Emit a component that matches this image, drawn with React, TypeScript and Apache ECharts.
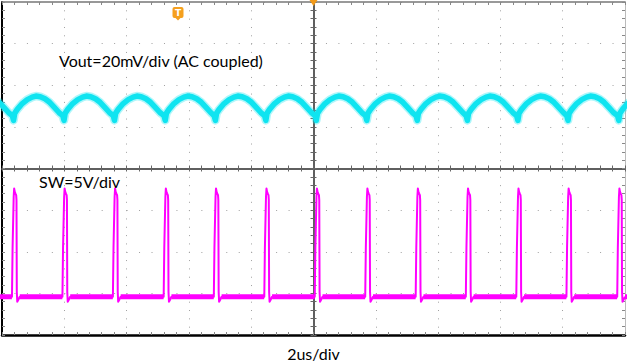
import React, { useEffect, useRef } from "react";
import * as echarts from "echarts";

// time axis: µs, 2 µs/div, 10 divisions
const timeMin = -10;
const timeMax = 10;
// vertical screen: 8 divisions
const divMin = -4;
const divMax = 4;
// Vout channel: 20 mV/div (AC coupled)
const voutMin = -110;
const voutMax = 50;
// SW channel: 5 V/div
const swMin = -5;
const swMax = 35;

// rising edges of the switch node (µs), first one is just off screen
const switchEdges = [-11.29, -9.67, -8.05, -6.43, -4.8, -3.19, -1.57, 0.05, 1.67, 3.29, 4.9, 6.52, 8.13, 9.76];

// Vout ripple through one switching cycle (offset µs from edge, mV)
const rippleOffsets = [0.0, 0.04, 0.08, 0.16, 0.32, 0.48, 0.64, 0.76, 0.9, 1.05, 1.2, 1.35, 1.5];
const rippleValues = [-4.6, -6.9, -3.4, -1.6, 1.2, 3.1, 4.3, 4.8, 4.5, 3.5, 1.8, -0.6, -3.1];

// SW pulse through one cycle (offset µs from edge, V)
const pulseOffsets = [-0.01, 0.01, 0.045, 0.06, 0.08, 0.1, 0.125, 0.135, 0.145, 0.16, 0.19, 0.24];
const pulseValues = [-0.4, 5.5, 11.6, 12.6, 12.2, 12.0, 11.8, 11.2, 0.2, -1.0, -0.8, -0.4];
const swLowLevel = -0.4;

function buildRipple(): (number | string)[][] {
  const out: (number | string)[][] = [];
  switchEdges.forEach((e, i) => {
    const next = switchEdges[i + 1];
    rippleOffsets.forEach((o, j) => {
      const t = e + o;
      if (next === undefined || t < next) out.push([t, rippleValues[j]]);
    });
  });
  return out;
}

function buildSwitch(): (number | string)[][] {
  const out: (number | string)[][] = [];
  switchEdges.forEach((e) => {
    pulseOffsets.forEach((o, j) => out.push([e + o, pulseValues[j]]));
  });
  return out;
}

function buildLowBand(): (number | string)[][] {
  const out: (number | string)[][] = [];
  switchEdges.forEach((e, i) => {
    const next = switchEdges[i + 1] !== undefined ? switchEdges[i + 1] : e + 1.62;
    out.push([e + 0.24, swLowLevel]);
    out.push([next - 0.012, swLowLevel]);
    out.push([next - 0.006, "-"]);
  });
  return out;
}

const FONT = "Lato";

export default function App() {
  const ref = useRef<HTMLDivElement>(null);
  useEffect(() => {
    if (!ref.current) return;
    const chart = echarts.init(ref.current, undefined, { renderer: "svg" });
    const dotted = (gap: number) => ({ color: "#a0a0a0", width: 1, type: [1, gap] as any });
    const hiddenText = { show: false };
    const option: any = {
      animation: false,
      backgroundColor: "#ffffff",
      grid: { left: 2, right: 2, top: 2, bottom: 28, containLabel: false, outerBoundsMode: "none" },
      xAxis: [
        {
          type: "value", min: timeMin, max: timeMax, interval: 2, position: "bottom",
          axisLine: { show: false, onZero: false }, axisTick: { show: false }, axisLabel: hiddenText,
          splitLine: { show: true, lineStyle: dotted(7.325) },
          name: "2us/div", nameLocation: "middle", nameGap: 10,
          nameTextStyle: { fontFamily: FONT, fontSize: 16, color: "#000" },
        },
        {
          type: "value", min: timeMin, max: timeMax, interval: 0.4, position: "bottom",
          axisLine: { show: true, onZero: false, lineStyle: { color: "#000", width: 2.5 } },
          axisTick: { show: true, inside: true, length: 3, lineStyle: { color: "#888" } },
          axisLabel: hiddenText, splitLine: { show: false },
        },
        {
          type: "value", min: timeMin, max: timeMax, interval: 0.4, position: "top",
          axisLine: { show: true, onZero: false, lineStyle: { color: "#777", width: 1.5 } },
          axisTick: { show: true, inside: true, length: 3, lineStyle: { color: "#888" } },
          axisLabel: hiddenText, splitLine: { show: false },
        },
        {
          type: "value", min: timeMin, max: timeMax, interval: 0.4, position: "bottom",
          axisLine: { show: true, onZero: true, onZeroAxisIndex: 0, lineStyle: { color: "#555", width: 1.5 } },
          axisTick: { show: true, inside: true, length: 3, lineStyle: { color: "#666" } },
          axisLabel: hiddenText, splitLine: { show: false },
        },
        {
          type: "value", min: timeMin, max: timeMax, interval: 0.4, position: "bottom",
          axisLine: { show: true, onZero: true, onZeroAxisIndex: 0, lineStyle: { color: "#555", width: 1.5 } },
          axisTick: { show: true, inside: false, length: 3, lineStyle: { color: "#666" } },
          axisLabel: hiddenText, splitLine: { show: false },
        },
      ],
      yAxis: [
        {
          type: "value", min: divMin, max: divMax, interval: 1,
          axisLine: { show: false, onZero: false }, axisTick: { show: false }, axisLabel: hiddenText,
          splitLine: { show: true, lineStyle: dotted(11.46) },
        },
        {
          type: "value", min: divMin, max: divMax, interval: 0.2, position: "left",
          axisLine: { show: true, onZero: false, lineStyle: { color: "#000", width: 2 } },
          axisTick: { show: true, inside: true, length: 3, lineStyle: { color: "#888" } },
          axisLabel: hiddenText, splitLine: { show: false },
        },
        {
          type: "value", min: divMin, max: divMax, interval: 0.2, position: "right",
          axisLine: { show: true, onZero: false, lineStyle: { color: "#bbb", width: 1 } },
          axisTick: { show: true, inside: true, length: 3, lineStyle: { color: "#888" } },
          axisLabel: hiddenText, splitLine: { show: false },
        },
        {
          type: "value", min: divMin, max: divMax, interval: 0.2, position: "left",
          axisLine: { show: true, onZero: true, onZeroAxisIndex: 0, lineStyle: { color: "#555", width: 1.5 } },
          axisTick: { show: true, inside: true, length: 3, lineStyle: { color: "#666" } },
          axisLabel: hiddenText, splitLine: { show: false },
        },
        {
          type: "value", min: divMin, max: divMax, interval: 0.2, position: "left",
          axisLine: { show: true, onZero: true, onZeroAxisIndex: 0, lineStyle: { color: "#555", width: 1.5 } },
          axisTick: { show: true, inside: false, length: 3, lineStyle: { color: "#666" } },
          axisLabel: hiddenText, splitLine: { show: false },
        },
        { type: "value", min: voutMin, max: voutMax, show: false, axisLine: { onZero: false } },
        { type: "value", min: swMin, max: swMax, show: false, axisLine: { onZero: false } },
      ],
      series: [
        {
          name: "Vout halo", type: "line", xAxisIndex: 0, yAxisIndex: 5, data: buildRipple(),
          showSymbol: false, silent: true, clip: true, z: 3,
          lineStyle: { color: "#19e6f0", width: 8.5, opacity: 0.35, join: "round" },
        },
        {
          name: "Vout", type: "line", xAxisIndex: 0, yAxisIndex: 5, data: buildRipple(),
          showSymbol: false, silent: true, clip: true, z: 4,
          lineStyle: { color: "#0fe4f0", width: 5.5, join: "round" },
        },
        {
          name: "SW band", type: "line", xAxisIndex: 0, yAxisIndex: 6, data: buildLowBand(),
          showSymbol: false, silent: true, clip: true, z: 4, connectNulls: false,
          lineStyle: { color: "#ff00ff", width: 5 },
        },
        {
          name: "SW", type: "line", xAxisIndex: 0, yAxisIndex: 6, data: buildSwitch(),
          showSymbol: false, silent: true, clip: true, z: 5,
          lineStyle: { color: "#ff00ff", width: 2, join: "round" },
        },
      ],
      graphic: [
        {
          type: "text", x: 59, y: 60, z: 10,
          style: { text: "Vout=20mV/div (AC coupled)", fontFamily: FONT, fontSize: 16, fill: "#000", align: "left", verticalAlign: "middle" },
        },
        {
          type: "text", x: 39, y: 181, z: 10,
          style: { text: "SW=5V/div", fontFamily: FONT, fontSize: 16, fill: "#000", align: "left", verticalAlign: "middle" },
        },
        {
          type: "group", x: 178, y: 13, z: 10,
          children: [
            { type: "rect", shape: { x: -5.5, y: -6, width: 11, height: 11, r: 2 }, style: { fill: "#f5a01e" } },
            { type: "polygon", shape: { points: [[-3, 4.5], [3, 4.5], [0, 7.5]] }, style: { fill: "#f5a01e" } },
            { type: "text", x: 0, y: -0.5, style: { text: "T", fontFamily: "DejaVu Sans", fontWeight: "bold", fontSize: 9, fill: "#fff", align: "center", verticalAlign: "middle" } },
          ],
        },
        {
          type: "polygon", z: 10,
          shape: { points: [[309.5, 0], [317.5, 0], [313.5, 6]] }, style: { fill: "#f29a1a" },
        },
      ],
    };
    chart.setOption(option);
    return () => chart.dispose();
  }, []);
  return <div ref={ref} style={{ position: "fixed", left: 0, top: 0, width: 627, height: 363, background: "#fff" }} />;
}
